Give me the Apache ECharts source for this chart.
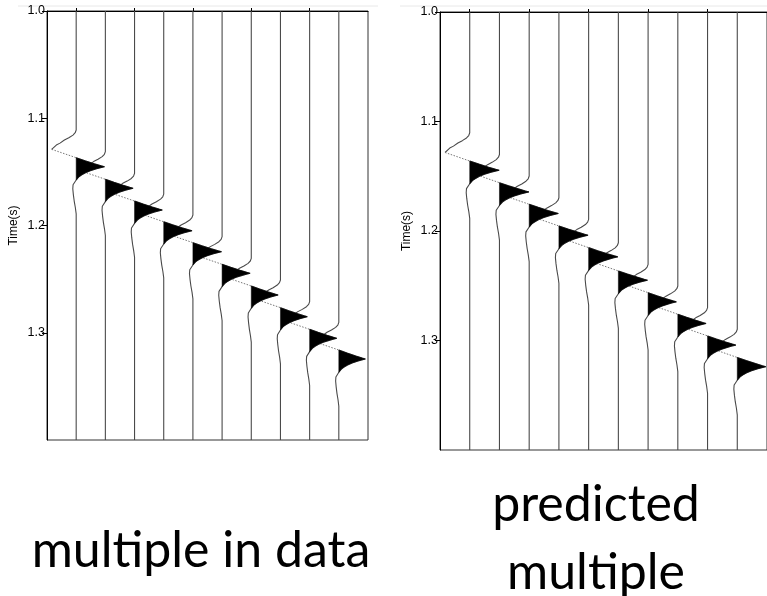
<!DOCTYPE html>
<html><head><meta charset="utf-8">
<script src="https://cdn.jsdelivr.net/npm/echarts@6/dist/echarts.min.js"></script>
<style>html,body{margin:0;padding:0;background:#fff}#c{width:767px;height:596px}</style>
</head><body><div id="c"></div>
<script>
// ---- data ----
const traceNumbers = [1, 2, 3, 4, 5, 6, 7, 8, 9, 10];
const yTicks = [1.0, 1.1, 1.2, 1.3];
const topTicks = [1, 3, 5, 7, 9];
// wavelet: time offset from peak (ms) and normalised amplitude
const waveletMs    = [-42, -34.2, -31.7, -29.5, -27, -24.9, -22, -20.2, -16.2, -8.4, -5.6, -2.8, -0.9, 0, 0.9, 1.9, 3.7, 5.6, 7.5, 9.3, 12.4, 14, 16.8, 20.5, 26, 32, 38, 44];
const waveletShape = [0, 0, -0.04, -0.13, -0.3, -0.48, -0.66, -0.81, -1, 0, 0.31, 0.64, 0.88, 1, 0.86, 0.72, 0.5, 0.33, 0.2, 0.1, 0, -0.06, -0.11, -0.12, -0.1, -0.07, -0.03, 0];
// left panel: multiple in data
const leftPeakTimes  = [1.1452, 1.1653, 1.1856, 1.2049, 1.2244, 1.2446, 1.2648, 1.2850, 1.3052, 1.3245];
const leftPeakAmps   = [0.97, 0.95, 0.95, 0.97, 0.98, 0.96, 0.92, 0.92, 0.93, 0.91];
const leftTroughAmps = [0.84, 0.84, 0.84, 0.84, 0.84, 0.84, 0.84, 0.84, 0.84, 0.84];
// right panel: predicted multiple
const rightPeakTimes  = [1.1445, 1.1643, 1.1840, 1.2038, 1.2236, 1.2449, 1.2647, 1.2844, 1.3042, 1.3239];
const rightPeakAmps   = [0.99, 0.99, 0.98, 0.98, 0.98, 0.98, 0.95, 0.95, 0.95, 0.96];
const rightTroughAmps = [0.83, 0.83, 0.83, 0.83, 0.83, 0.83, 0.83, 0.83, 0.83, 0.83];
const captionLeft = 'multiple in data';
const captionRight = 'predicted\nmultiple';
const yName = 'Time(s)';

// ---- build ----
const I_MIN = waveletShape.indexOf(-1);          // trough
const I_ZERO = I_MIN + 1;                         // zero crossing before peak
const ZERO_AFTER_MS = 12.4;
function pt(i, k, tp, ap, at) {
  const s = waveletShape[i];
  const amp = (i <= I_MIN) ? s * at : s * ap;
  return [k + amp, tp + waveletMs[i] / 1000];
}
const lineColor = '#4a4a4a';
const series = [];
function lineSeries(gi, data, style) {
  return {
    type: 'line', xAxisIndex: gi, yAxisIndex: gi, z: 2, data: data,
    showSymbol: false, symbol: 'none', silent: true, animation: false,
    lineStyle: style
  };
}
function addPanel(gi, times, pAmps, tAmps) {
  traceNumbers.forEach((k, j) => {
    const tp = times[j], ap = pAmps[j], at = tAmps[j];
    const a = [[k, 1.0]];
    for (let i = 0; i <= I_MIN; i++) a.push(pt(i, k, tp, ap, at));
    const c = [pt(I_MIN, k, tp, ap, at), pt(I_ZERO, k, tp, ap, at)];
    const b = [];
    for (let i = I_ZERO; i < waveletMs.length; i++) b.push(pt(i, k, tp, ap, at));
    b.push([k, 1.4]);
    series.push(lineSeries(gi, a, { color: lineColor, width: 1.1 }));
    series.push(lineSeries(gi, c, { color: '#777', width: 1, type: [1.5, 1.5] }));
    series.push(lineSeries(gi, b, { color: lineColor, width: 1.1 }));
  });
  series.push({
    type: 'custom', xAxisIndex: gi, yAxisIndex: gi, z: 3, animation: false, silent: true,
    data: traceNumbers.map((k, j) => [k, times[j], pAmps[j]]),
    encode: { x: 0, y: 1 },
    renderItem: function (params, api) {
      const k = api.value(0), tp = api.value(1), ap = api.value(2);
      const pts = [];
      for (let i = I_ZERO; i < waveletMs.length && waveletMs[i] <= ZERO_AFTER_MS; i++) {
        pts.push(api.coord([k + waveletShape[i] * ap, tp + waveletMs[i] / 1000]));
      }
      return { type: 'polygon', shape: { points: pts }, style: { fill: '#000', stroke: '#000', lineWidth: 0.5 } };
    }
  });
}
addPanel(0, leftPeakTimes, leftPeakAmps, leftTroughAmps);
addPanel(1, rightPeakTimes, rightPeakAmps, rightTroughAmps);

const FONT = '"Liberation Sans", Arial, sans-serif';
function xAx(gi) {
  return {
    type: 'value', gridIndex: gi, min: 0, max: 11, position: 'top',
    axisLine: { show: true, onZero: false, lineStyle: { color: '#000', width: 1 } },
    axisTick: { show: true, customValues: topTicks, length: 3, lineStyle: { color: '#000' } },
    axisLabel: { show: false }, splitLine: { show: false }
  };
}
function yAx(gi) {
  return {
    type: 'value', gridIndex: gi, min: 1.0, max: 1.4, inverse: true,
    name: yName, nameLocation: 'middle', nameGap: 27, nameRotate: 90,
    nameTextStyle: { fontSize: 12, color: '#000', fontFamily: FONT },
    axisLine: { show: true, onZero: false, lineStyle: { color: '#000', width: 1 } },
    axisTick: { show: true, customValues: yTicks, length: 5, lineStyle: { color: '#000' } },
    axisLabel: { customValues: yTicks, formatter: v => Number(v).toFixed(1), fontSize: 12.5, color: '#000', margin: 2, fontFamily: FONT },
    splitLine: { show: false }
  };
}
const chart = echarts.init(document.getElementById('c'), null, { renderer: 'canvas' });
chart.setOption({
  animation: false,
  backgroundColor: '#fff',
  grid: [
    { left: 47, top: 11, width: 321, height: 429, show: true, borderColor: '#333', borderWidth: 1, backgroundColor: 'transparent' },
    { left: 440, top: 12, width: 328, height: 438, show: true, borderColor: '#333', borderWidth: 1, backgroundColor: 'transparent' }
  ],
  xAxis: [xAx(0), xAx(1)],
  yAxis: [yAx(0), yAx(1)],
  series: series,
  graphic: [
    { type: 'line', shape: { x1: 18, y1: 6, x2: 378, y2: 6 }, style: { stroke: '#e8e8e8', lineWidth: 1 }, silent: true },
    { type: 'line', shape: { x1: 400, y1: 6, x2: 767, y2: 6 }, style: { stroke: '#e8e8e8', lineWidth: 1 }, silent: true },
    { type: 'text', x: 201, y: 551, style: { text: captionLeft, textAlign: 'center', textVerticalAlign: 'middle', font: '50px Lato, "Open Sans", sans-serif', fill: '#000' } },
    { type: 'text', x: 596, y: 539, style: { text: captionRight, textAlign: 'center', textVerticalAlign: 'middle', font: '50px Lato, "Open Sans", sans-serif', lineHeight: 68, fill: '#000' } }
  ]
});
</script></body></html>
